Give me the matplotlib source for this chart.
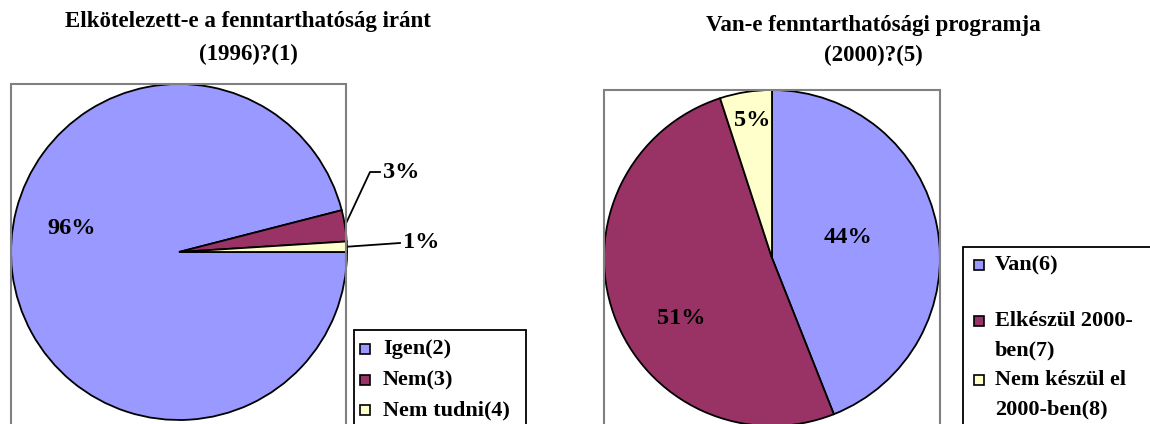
import numpy as np
import matplotlib.pyplot as plt
from matplotlib.patches import Rectangle

# data
left_title = ["Elkötelezett-e a fenntarthatóság iránt", "(1996)?(1)"]
left_labels = ["Igen(2)", "Nem(3)", "Nem tudni(4)"]
left_values = [96, 3, 1]

right_title = ["Van-e fenntarthatósági programja", "(2000)?(5)"]
right_labels = ["Van(6)", "Elkészül 2000-\nben(7)", "Nem készül el\n2000-ben(8)"]
right_values = [44, 51, 5]

colors = ["#9999FF", "#993366", "#FFFFCC"]

W, H = 1150, 424
plt.rcParams['font.family'] = ['Liberation Serif', 'DejaVu Serif']
plt.rcParams['font.weight'] = 'bold'

fig = plt.figure(figsize=(W / 100, H / 100), dpi=100)


def fx(x):
    return x / W


def fy(y):
    return 1 - y / H


def fig_rect(x0, y0, x1, y1, **kw):
    fig.patches.append(Rectangle((fx(x0), fy(y1)), fx(x1) - fx(x0), fy(y0) - fy(y1),
                                 transform=fig.transFigure, figure=fig, **kw))


def draw_pie(cx, cy, r, values, startangle):
    ax = fig.add_axes([fx(cx - r), fy(cy + r), 2 * r / W, 2 * r / H])
    wedges, _ = ax.pie(values, colors=colors, startangle=startangle, counterclock=False,
                       radius=1, wedgeprops=dict(edgecolor='black', linewidth=1.3))
    ax.set_xlim(-1, 1)
    ax.set_ylim(-1, 1)
    ax.axis('off')
    return ax, wedges


def pct(v, values):
    return "%d%%" % round(100.0 * v / sum(values))


def legend_box(x0, y0, x1, y1, entries, sq_x, text_x, line_h=29):
    fig_rect(x0, y0, x1, y1, facecolor='white', edgecolor='black', linewidth=1.3)
    for (label, y, color) in entries:
        fig_rect(sq_x, y - 5, sq_x + 10, y + 5, facecolor=color, edgecolor='black', linewidth=1.2)
        for k, line in enumerate(label.split("\n")):
            fig.text(fx(text_x), fy(y + k * line_h), line, fontsize=16, fontweight='bold',
                     ha='left', va='center')


# ---- left chart ----
fig_rect(11, 84, 346, 440, facecolor='none', edgecolor='#808080', linewidth=1.5)
for i, line in enumerate(left_title):
    fig.text(fx(248), fy(22 + 32 * i), line, fontsize=16.5, fontweight='bold', ha='center', va='center')

r = 168
ax, wedges = draw_pie(179, 252, r, left_values, 0)
ax.text((72 - 179) / r, (252 - 228) / r, pct(left_values[0], left_values),
        fontsize=17.5, fontweight='bold', ha='center', va='center')
# outside labels with leader lines
ext = [((370, 172), (380, 172), (383, 173)), ((400, 243), (400, 243), (403, 243))]
for w, v, (mid, end, txt) in zip(wedges[1:], left_values[1:], ext):
    a = np.deg2rad((w.theta1 + w.theta2) / 2)
    pts = [(np.cos(a), np.sin(a)),
           ((mid[0] - 179) / r, (252 - mid[1]) / r),
           ((end[0] - 179) / r, (252 - end[1]) / r)]
    ax.plot([p[0] for p in pts], [p[1] for p in pts], color='black', lw=1.3, clip_on=False)
    ax.text((txt[0] - 179) / r, (252 - txt[1]) / r, pct(v, left_values),
            fontsize=17.5, fontweight='bold', ha='left', va='center')

legend_box(354, 330, 526, 440,
           list(zip(left_labels, [349, 380, 410], colors)), 360, 383)

# ---- right chart ----
fig_rect(604, 90, 940, 440, facecolor='none', edgecolor='#808080', linewidth=1.5)
for i, line in enumerate(right_title):
    fig.text(fx(873), fy(25 + 30 * i), line, fontsize=16.5, fontweight='bold', ha='center', va='center')

ax2, wedges2 = draw_pie(772, 258, r, right_values, 90)
inside = [(848, 237), (681, 318), (752, 120)]
for v, (tx, ty) in zip(right_values, inside):
    ax2.text((tx - 772) / r, (258 - ty) / r, pct(v, right_values),
             fontsize=17.5, fontweight='bold', ha='center', va='center')

legend_box(963, 247, 1170, 440,
           list(zip(right_labels, [265, 321, 380], colors)), 974, 995)

fig.savefig("out.png", dpi=100)
